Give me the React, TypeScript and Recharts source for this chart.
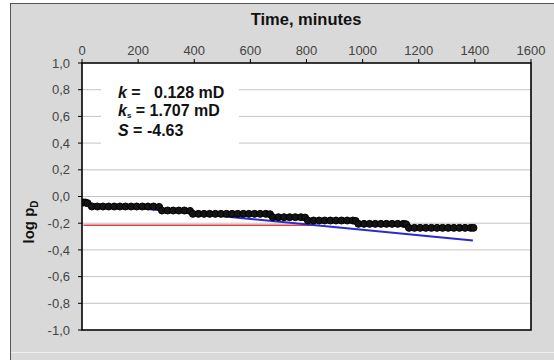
import {
  CartesianGrid,
  ComposedChart,
  Line,
  ReferenceArea,
  Scatter,
  XAxis,
  YAxis,
} from "recharts";

// measured points (time in minutes, log pD)
const times = [
  5, 12, 20,
  35, 55, 75, 95, 115, 135, 155, 175, 195, 215, 235, 255, 275,
  285, 305, 325, 345, 365, 385,
  395, 415, 435, 455, 475, 495, 515, 535, 555, 575, 595, 615, 635, 655, 670,
  680, 700, 720, 740, 760, 780, 795,
  805, 825, 845, 865, 885, 905, 925, 945, 965, 975,
  985, 1005, 1025, 1045, 1065, 1085, 1105, 1125, 1145, 1155,
  1165, 1185, 1205, 1225, 1245, 1265, 1285, 1305, 1325, 1345, 1365, 1385, 1395,
];
const logPd = [
  -0.045, -0.045, -0.05,
  -0.075, -0.075, -0.075, -0.075, -0.075, -0.075, -0.075, -0.075, -0.075, -0.075, -0.075, -0.075, -0.078,
  -0.105, -0.105, -0.105, -0.105, -0.105, -0.108,
  -0.13, -0.13, -0.13, -0.13, -0.13, -0.13, -0.13, -0.13, -0.13, -0.13, -0.13, -0.13, -0.13, -0.13, -0.133,
  -0.155, -0.155, -0.155, -0.155, -0.155, -0.155, -0.158,
  -0.18, -0.18, -0.18, -0.18, -0.18, -0.18, -0.18, -0.18, -0.18, -0.183,
  -0.205, -0.205, -0.205, -0.205, -0.205, -0.205, -0.205, -0.205, -0.205, -0.208,
  -0.235, -0.235, -0.235, -0.235, -0.235, -0.235, -0.235, -0.235, -0.235, -0.235, -0.235, -0.235, -0.235,
];

// model line (blue) and reference level (red)
const modelTimes = [20, 1393];
const modelValues = [-0.05, -0.33];
const refTimes = [5, 830];
const refValues = [-0.215, -0.215];

const xTicks = [0, 200, 400, 600, 800, 1000, 1200, 1400, 1600];
const yTicks = [-1, -0.8, -0.6, -0.4, -0.2, 0, 0.2, 0.4, 0.6, 0.8, 1];

const points = times.map((t, i) => ({ t, v: logPd[i] }));
const model = modelTimes.map((t, i) => ({ t, v: modelValues[i] }));
const ref = refTimes.map((t, i) => ({ t, v: refValues[i] }));

const FONT = '"Liberation Sans", Arial, sans-serif';

function Dot(props: any) {
  const { cx, cy } = props;
  return <circle cx={cx} cy={cy} r={3.5} fill="#141414" stroke="#000" strokeWidth={1} />;
}

export default function App() {
  return (
    <div
      style={{
        position: "fixed",
        left: 0,
        top: 0,
        width: 554,
        height: 360,
        background: "#fff",
        fontFamily: FONT,
      }}
    >
      <div
        style={{
          position: "absolute",
          left: 10,
          top: 3,
          width: 560,
          height: 360,
          background: "#d9d9d9",
          borderTop: "1.5px solid #555",
          borderLeft: "1.5px solid #555",
        }}
      />
      <div
        style={{
          position: "absolute",
          left: 11,
          top: 352,
          width: 560,
          height: 1,
          background: "#eeeeee",
        }}
      />
      <div style={{ position: "absolute", left: 0, top: 0 }}>
        <ComposedChart
          width={554}
          height={360}
          margin={{ top: 0, right: 23, bottom: 30, left: 0 }}
        >
          <CartesianGrid vertical={false} stroke="#c4c4c4" fill="#fff" />
          <XAxis
            type="number"
            dataKey="t"
            orientation="top"
            domain={[0, 1600]}
            ticks={xTicks}
            height={63}
            tickSize={4}
            tickMargin={4}
            axisLine={false}
            tickLine={{ stroke: "#000" }}
            tick={{ fill: "#444", fontSize: 13, fontFamily: FONT }}
            allowDataOverflow
          />
          <YAxis
            type="number"
            dataKey="v"
            domain={[-1, 1]}
            ticks={yTicks}
            width={82}
            tickSize={4}
            tickMargin={8}
            axisLine={false}
            tickLine={{ stroke: "#000" }}
            tick={{ fill: "#444", fontSize: 13, fontFamily: FONT }}
            tickFormatter={(v: number) => v.toFixed(1).replace(".", ",")}
            allowDataOverflow
          />
          <ReferenceArea
            x1={0}
            x2={1600}
            y1={-1}
            y2={1}
            fill="none"
            fillOpacity={0}
            stroke="#000"
            strokeWidth={1.6}
            ifOverflow="visible"
          />
          <Line
            data={ref}
            dataKey="v"
            stroke="#e04040"
            strokeWidth={1.6}
            dot={false}
            isAnimationActive={false}
          />
          <Line
            data={model}
            dataKey="v"
            stroke="#2a2ad0"
            strokeWidth={2}
            dot={false}
            isAnimationActive={false}
          />
          <Scatter
            data={points}
            dataKey="v"
            shape={<Dot />}
            isAnimationActive={false}
          />
        </ComposedChart>
      </div>

      {/* axis title on top */}
      <div
        style={{
          position: "absolute",
          left: 306,
          top: 19,
          transform: "translate(-50%, -50%)",
          fontWeight: "bold",
          fontSize: 16.5,
          color: "#111",
          whiteSpace: "nowrap",
        }}
      >
        Time, minutes
      </div>

      {/* y axis title */}
      <div
        style={{
          position: "absolute",
          left: 30,
          top: 222,
          transform: "translate(-50%, -50%) rotate(-90deg)",
          fontWeight: "bold",
          fontSize: 15,
          color: "#111",
          whiteSpace: "nowrap",
        }}
      >
        log p<sub style={{ fontSize: 10 }}>D</sub>
      </div>

      {/* annotation box */}
      <div
        style={{
          position: "absolute",
          left: 101,
          top: 78,
          width: 138,
          height: 74,
          background: "#fff",
        }}
      />
      <div
        style={{
          position: "absolute",
          left: 118,
          top: 84,
          fontWeight: "bold",
          fontSize: 16,
          lineHeight: "17.5px",
          color: "#111",
          whiteSpace: "pre",
        }}
      >
        <div>
          <i>k</i> =   0.128 mD
        </div>
        <div>
          <i>k</i>
          <span style={{ fontSize: 8, position: "relative", top: 2 }}>s</span> = 1.707 mD
        </div>
        <div>
          <i>S</i> = -4.63
        </div>
      </div>
    </div>
  );
}
